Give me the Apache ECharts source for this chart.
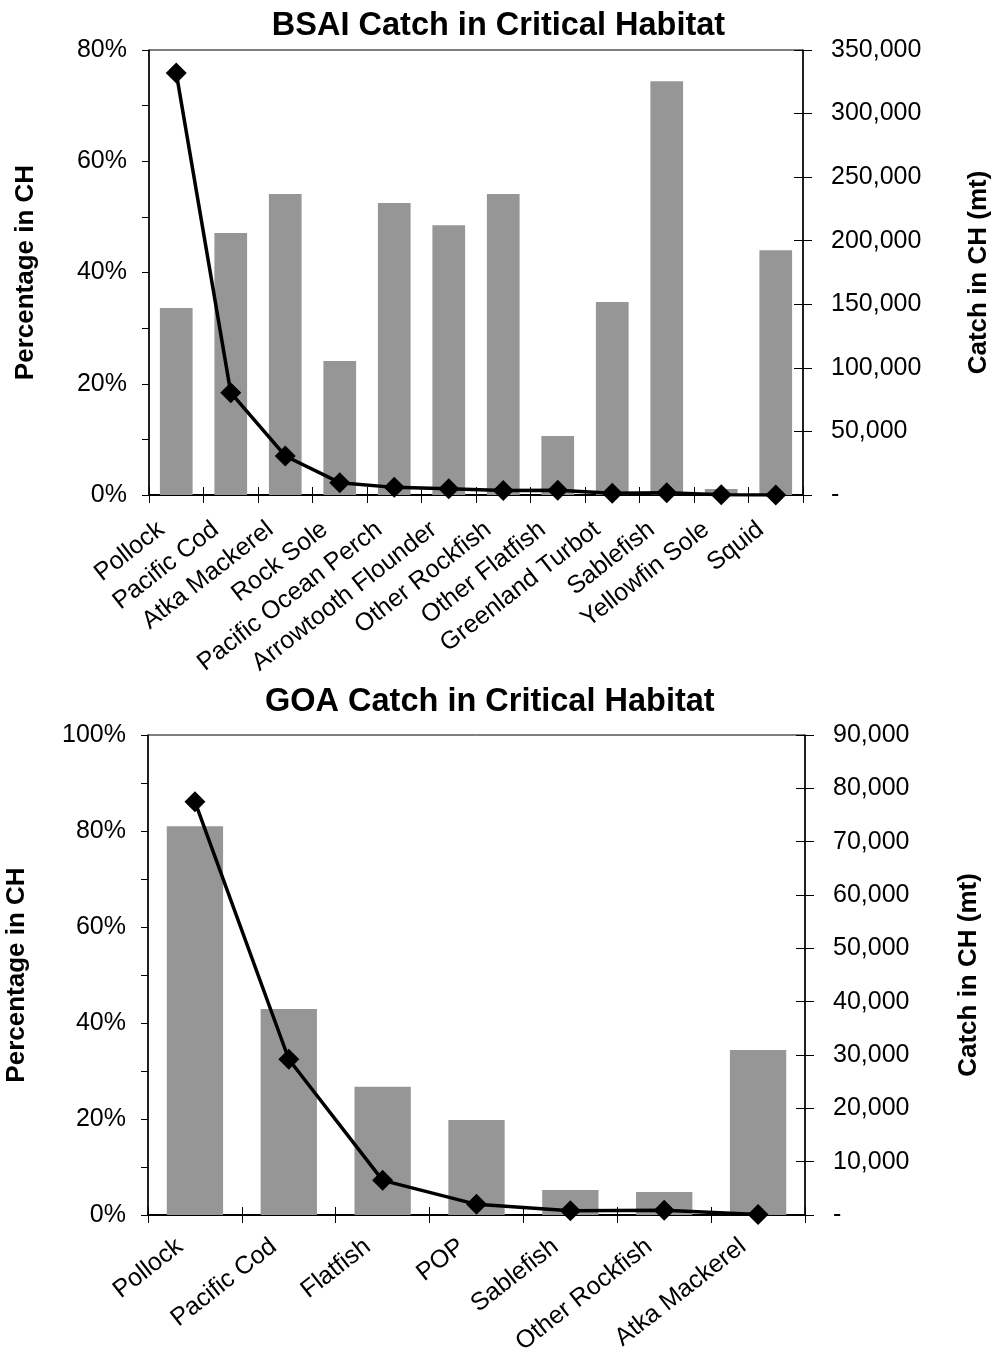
<!DOCTYPE html>
<html>
<head>
<meta charset="utf-8">
<script src="https://cdn.jsdelivr.net/npm/echarts@6/dist/echarts.min.js"></script>
<style>
  html, body { margin: 0; padding: 0; background: #fff; }
  #chart { width: 997px; height: 1351px; }
</style>
</head>
<body>
<div id="chart"></div>
<script>
// Bering Sea / Aleutian Islands
const bsaiCategories = ['Pollock', 'Pacific Cod', 'Atka Mackerel', 'Rock Sole', 'Pacific Ocean Perch',
  'Arrowtooth Flounder', 'Other Rockfish', 'Other Flatfish', 'Greenland Turbot', 'Sablefish',
  'Yellowfin Sole', 'Squid'];
const bsaiPctInCH = [33.6, 47.1, 54.1, 24.1, 52.5, 48.5, 54.1, 10.6, 34.7, 74.4, 1.1, 44.0];
const bsaiCatchInCH = [332000, 80500, 30700, 9700, 6000, 5000, 3500, 3700, 1400, 1700, 200, 50];

// Gulf of Alaska
const goaCategories = ['Pollock', 'Pacific Cod', 'Flatfish', 'POP', 'Sablefish', 'Other Rockfish', 'Atka Mackerel'];
const goaPctInCH = [81.0, 42.9, 26.7, 19.8, 5.2, 4.8, 34.4];
const goaCatchInCH = [77500, 29200, 6500, 2000, 800, 900, 100];

// Axis scales
const bsaiPctMax = 80, goaPctMax = 100, pctStep = 10, pctLabelStep = 20;
const bsaiCatchMax = 350000, bsaiCatchStep = 50000;
const goaCatchMax = 90000, goaCatchStep = 10000;

const FONT = '"Liberation Sans", Arial, sans-serif';
const BAR_COLOR = '#969696';

const pctLabel = v => (v % pctLabelStep === 0 ? v + '%' : '');
const catchLabel = v => (v === 0 ? '-' : v.toLocaleString('en-US'));

function categoryAxes(gridIndex, data, labelMargin) {
  const base = {
    type: 'category', gridIndex, data, position: 'bottom', boundaryGap: true,
    axisLine: { show: true, lineStyle: { color: '#000', width: 2 } },
    splitLine: { show: false }
  };
  return [
    Object.assign({}, base, {
      axisTick: { show: true, inside: false, length: 8, interval: 0, lineStyle: { color: '#000', width: 1 } },
      axisLabel: {
        interval: 0, rotate: 38, margin: labelMargin, padding: [0, 19, 0, 0],
        color: '#000', fontFamily: FONT, fontSize: 25
      }
    }),
    Object.assign({}, base, {
      axisLine: { show: false },
      axisTick: { show: true, inside: true, length: 8, interval: 0, lineStyle: { color: '#000', width: 1 } },
      axisLabel: { show: false }
    })
  ];
}

function valueAxes(gridIndex, pctMax, catchMax, catchStep, leftGap, rightGap) {
  const nameStyle = { color: '#000', fontFamily: FONT, fontSize: 26, fontWeight: 'bold' };
  return [
    {
      type: 'value', gridIndex, position: 'left', min: 0, max: pctMax, interval: pctStep,
      name: 'Percentage in CH', nameLocation: 'middle', nameGap: leftGap, nameTextStyle: nameStyle,
      axisLine: { show: true, lineStyle: { color: '#000', width: 1.5 } },
      axisTick: { show: true, inside: false, length: 7, lineStyle: { color: '#000', width: 1 } },
      axisLabel: { formatter: pctLabel, margin: 22, color: '#000', fontFamily: FONT, fontSize: 25 },
      splitLine: { show: false }
    },
    {
      type: 'value', gridIndex, position: 'right', min: 0, max: catchMax, interval: catchStep,
      name: 'Catch in CH (mt)', nameLocation: 'middle', nameGap: rightGap, nameTextStyle: nameStyle,
      axisLine: { show: true, lineStyle: { color: '#000', width: 1.5 } },
      axisTick: { show: true, inside: false, length: 9, lineStyle: { color: '#000', width: 1 } },
      axisLabel: { formatter: catchLabel, margin: 28, color: '#000', fontFamily: FONT, fontSize: 25 },
      splitLine: { show: false }
    },
    {
      type: 'value', gridIndex, position: 'right', min: 0, max: catchMax, interval: catchStep,
      axisLine: { show: false },
      axisTick: { show: true, inside: true, length: 9, lineStyle: { color: '#000', width: 1 } },
      axisLabel: { show: false },
      splitLine: { show: false }
    }
  ];
}

function seriesPair(xIdx, yPctIdx, yCatchIdx, pct, catchVals) {
  return [
    {
      type: 'bar', xAxisIndex: xIdx, yAxisIndex: yPctIdx, data: pct,
      barWidth: '60%', itemStyle: { color: BAR_COLOR }
    },
    {
      type: 'line', xAxisIndex: xIdx, yAxisIndex: yCatchIdx, data: catchVals,
      symbol: 'diamond', symbolSize: 21, showAllSymbol: true,
      lineStyle: { color: '#000', width: 3.5 }, itemStyle: { color: '#000' },
      z: 5
    }
  ];
}

const titleStyle = { color: '#000', fontFamily: FONT, fontSize: 32.5, fontWeight: 'bold' };

const gridBase = {
  show: true, borderColor: '#000', borderWidth: 1,
  containLabel: false, outerBoundsMode: 'none'
};

const option = {
  animation: false,
  backgroundColor: '#fff',
  title: [
    { text: 'BSAI Catch in Critical Habitat', left: 'center', top: 5, textStyle: titleStyle },
    { text: 'GOA Catch in Critical Habitat', left: 265, top: 686, padding: 0, textStyle: titleStyle }
  ],
  grid: [
    Object.assign({ left: 149, right: 194, top: 50, bottom: 856 }, gridBase),
    Object.assign({ left: 148, right: 192, top: 735, bottom: 136 }, gridBase)
  ],
  xAxis: [
    ...categoryAxes(0, bsaiCategories, 20),
    ...categoryAxes(1, goaCategories, 17)
  ],
  yAxis: [
    ...valueAxes(0, bsaiPctMax, bsaiCatchMax, bsaiCatchStep, 110, 163),
    ...valueAxes(1, goaPctMax, goaCatchMax, goaCatchStep, 118, 151)
  ],
  series: [
    ...seriesPair(0, 0, 1, bsaiPctInCH, bsaiCatchInCH),
    ...seriesPair(2, 3, 4, goaPctInCH, goaCatchInCH)
  ]
};

const chart = echarts.init(document.getElementById('chart'), null, { renderer: 'canvas' });
chart.setOption(option);
</script>
</body>
</html>
